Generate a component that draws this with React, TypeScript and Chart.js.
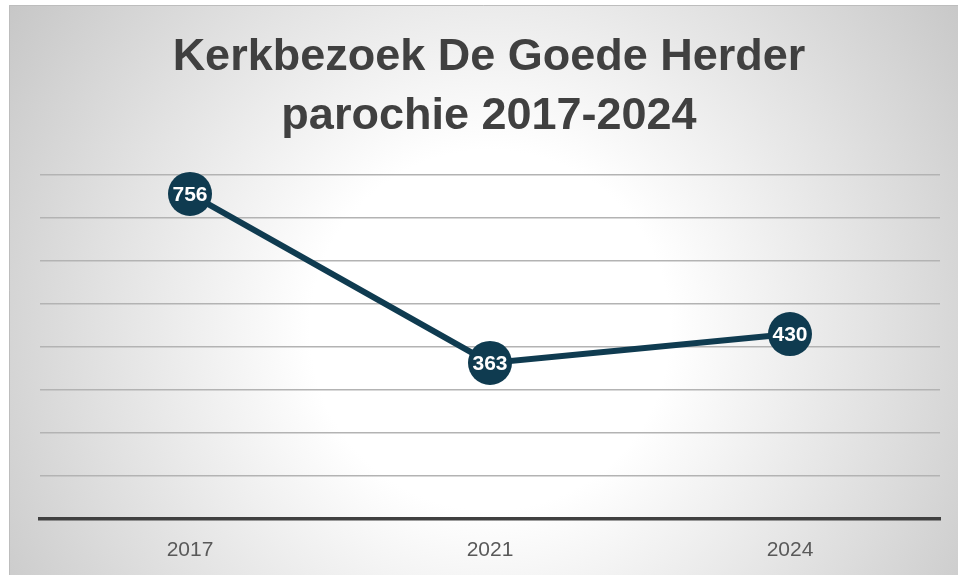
import React, { useEffect, useRef } from "react";
import { Chart, registerables } from "chart.js";

Chart.register(...registerables);

const titleLines = ["Kerkbezoek De Goede Herder", "parochie 2017-2024"];
const categories = ["2017", "2021", "2024"];
const visitors = [756, 363, 430];
const yMin = 0;
const yMax = 800;
const yStep = 100;

const FONT = "'Liberation Sans', Arial, sans-serif";
const NAVY = "#0f3b50";

const backgroundPlugin = {
  id: "bg",
  beforeDraw(chart: any) {
    const { ctx, width, height } = chart;
    ctx.save();
    ctx.fillStyle = "#ffffff";
    ctx.fillRect(0, 0, width, height);
    const g = ctx.createRadialGradient(490, 330, 0, 490, 330, 600);
    g.addColorStop(0, "#ffffff");
    g.addColorStop(0.3, "#ffffff");
    g.addColorStop(1, "#c4c4c4");
    ctx.fillStyle = g;
    ctx.fillRect(9, 5, width - 9, height - 5);
    ctx.strokeStyle = "#bdbdbd";
    ctx.lineWidth = 1;
    ctx.beginPath();
    ctx.moveTo(9.5, height);
    ctx.lineTo(9.5, 5.5);
    ctx.lineTo(width, 5.5);
    ctx.stroke();
    // title
    ctx.fillStyle = "#404040";
    ctx.font = `bold 45px ${FONT}`;
    ctx.textAlign = "center";
    ctx.textBaseline = "alphabetic";
    ctx.fillText(titleLines[0], 489, 70);
    ctx.fillText(titleLines[1], 489, 129);
    ctx.restore();
  },
};

const labelPlugin = {
  id: "pointLabels",
  afterDatasetsDraw(chart: any) {
    const { ctx } = chart;
    const meta = chart.getDatasetMeta(0);
    ctx.save();
    ctx.fillStyle = "#ffffff";
    ctx.font = `bold 21px ${FONT}`;
    ctx.textAlign = "center";
    ctx.textBaseline = "middle";
    meta.data.forEach((pt: any, i: number) => {
      ctx.fillText(String(visitors[i]), pt.x, pt.y + 1);
    });
    ctx.restore();
  },
};

export default function App() {
  const ref = useRef<HTMLCanvasElement | null>(null);
  useEffect(() => {
    if (!ref.current) return;
    const chart = new Chart(ref.current, {
      type: "line",
      data: {
        labels: categories,
        datasets: [
          {
            data: visitors,
            borderColor: NAVY,
            backgroundColor: NAVY,
            borderWidth: 6,
            pointRadius: 22,
            pointHoverRadius: 22,
            pointBackgroundColor: NAVY,
            pointBorderColor: NAVY,
            pointBorderWidth: 0,
            tension: 0,
            clip: false as any,
          },
        ],
      },
      options: {
        animation: false,
        responsive: false,
        maintainAspectRatio: false,
        events: [],
        layout: {
          autoPadding: false,
          padding: { left: 40, right: 18, top: 175, bottom: 0 },
        },
        plugins: {
          legend: { display: false },
          title: { display: false },
          tooltip: { enabled: false },
        },
        scales: {
          x: {
            offset: true,
            grid: { display: false, drawTicks: false },
            border: { display: true, color: "#404040", width: 3.5, z: 1 },
            ticks: {
              color: "#595959",
              font: { family: FONT, size: 21 },
              padding: 19,
            },
            afterFit(scale: any) {
              scale.height = 56;
            },
          },
          y: {
            min: yMin,
            max: yMax,
            grid: {
              color: "#b3b3b3",
              lineWidth: 1.5,
              drawTicks: false,
            },
            border: { display: false },
            ticks: { display: false, stepSize: yStep },
            afterFit(scale: any) {
              scale.width = 0;
            },
          },
        },
      },
      plugins: [backgroundPlugin, labelPlugin],
    });
    return () => chart.destroy();
  }, []);
  return (
    <div style={{ position: "fixed", left: 0, top: 0, width: 958, height: 575 }}>
      <canvas ref={ref} width={958} height={575} style={{ display: "block" }} />
    </div>
  );
}
